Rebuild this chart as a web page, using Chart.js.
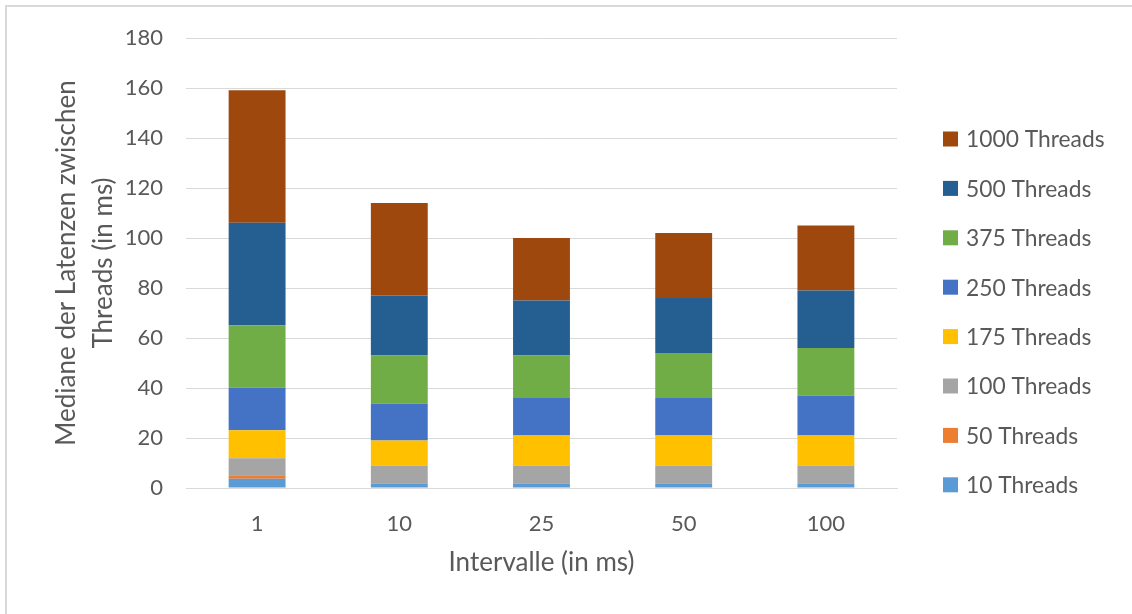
<!DOCTYPE html>
<html>
<head>
<meta charset="utf-8">
<script src="https://cdn.jsdelivr.net/npm/chart.js@4.4.1/dist/chart.umd.min.js"></script>
<style>
  html, body { margin: 0; padding: 0; background: #fff; }
  #wrap { position: relative; width: 1132px; height: 614px; }
  #rahmen {
    position: absolute; left: 5px; top: 5px; right: -10px; bottom: -10px;
    border: 2px solid #d9d9d9; pointer-events: none;
  }
</style>
</head>
<body>
<div id="wrap"><canvas id="latenz"></canvas><div id="rahmen"></div></div>
<script>
// Intervalle (x-Achse)
const intervalle = ["1", "10", "25", "50", "100"];

// Mediane je Thread-Anzahl (in ms), gestapelt
const t10 = [3.7, 1.8, 1.8, 1.8, 1.8];
const t50 = [1.4, 0.2, 0.2, 0.2, 0.2];
const t100 = [6.8, 7, 7, 7, 7];
const t175 = [11.2, 10, 12, 12, 12];
const t250 = [17, 14.8, 15, 15, 16];
const t375 = [25, 19.2, 17, 18, 19];
const t500 = [41, 24, 22, 22, 23];
const t1000 = [53, 37, 25, 26, 26];

const yTicks = [0, 20, 40, 60, 80, 100, 120, 140, 160, 180];

const grau = "#595959";

function ds(label, data, color) {
  return {
    label: label,
    data: data,
    backgroundColor: color,
    borderWidth: 0,
    barPercentage: 0.8,
    categoryPercentage: 0.5,
  };
}

// Legende rechts, umgekehrte Reihenfolge wie in Excel
const legendePlugin = {
  id: "legendeRechts",
  afterDraw(chart) {
    const c = chart.ctx;
    const area = chart.chartArea;
    const sets = chart.data.datasets;
    const x = area.right + 46;
    let y = area.top + 101;
    c.save();
    c.font = "22.8px Lato";
    c.textBaseline = "middle";
    c.textAlign = "left";
    for (let i = sets.length - 1; i >= 0; i--) {
      c.fillStyle = sets[i].backgroundColor;
      c.fillRect(x, y - 7.5, 15, 15);
      c.fillStyle = grau;
      c.fillText(sets[i].label, x + 23, y + 1);
      y += 49.4;
    }
    c.restore();
  },
};

const ctx = document.getElementById("latenz").getContext("2d");
new Chart(ctx, {
  type: "bar",
  data: {
    labels: intervalle,
    datasets: [
      ds("10 Threads", t10, "#5b9bd5"),
      ds("50 Threads", t50, "#ed7d31"),
      ds("100 Threads", t100, "#a5a5a5"),
      ds("175 Threads", t175, "#ffc000"),
      ds("250 Threads", t250, "#4472c4"),
      ds("375 Threads", t375, "#70ad47"),
      ds("500 Threads", t500, "#255e91"),
      ds("1000 Threads", t1000, "#9e480e"),
    ],
  },
  options: {
    responsive: true,
    maintainAspectRatio: false,
    animation: false,
    layout: { padding: { left: 0, right: 235, top: 38, bottom: 0 } },
    scales: {
      x: {
        stacked: true,
        afterFit: (axis) => { axis.height = 126; },
        grid: { display: false },
        border: { color: "#d9d9d9", width: 1 },
        ticks: { color: grau, font: { family: "Lato", size: 22 }, padding: 15 },
        title: {
          display: true,
          text: "Intervalle (in ms)",
          color: grau,
          font: { family: "Lato", size: 26 },
          padding: { top: 0, bottom: 36 },
        },
      },
      y: {
        stacked: true,
        min: 0,
        max: 180,
        afterFit: (axis) => { axis.width = 186; },
        afterBuildTicks: (axis) => {
          axis.ticks = yTicks.map((v) => ({ value: v }));
        },
        grid: { color: "#d9d9d9", lineWidth: 1, drawTicks: false },
        border: { display: false },
        ticks: { color: grau, font: { family: "Lato", size: 22 }, padding: 23 },
        title: {
          display: true,
          text: ["Mediane der Latenzen zwischen", "Threads (in ms)"],
          color: grau,
          font: { family: "Lato", size: 26, lineHeight: 1.42 },
          padding: { top: 48.5, bottom: 0 },
        },
      },
    },
    plugins: {
      legend: { display: false },
      tooltip: { enabled: false },
    },
  },
  plugins: [legendePlugin],
});
</script>
</body>
</html>
